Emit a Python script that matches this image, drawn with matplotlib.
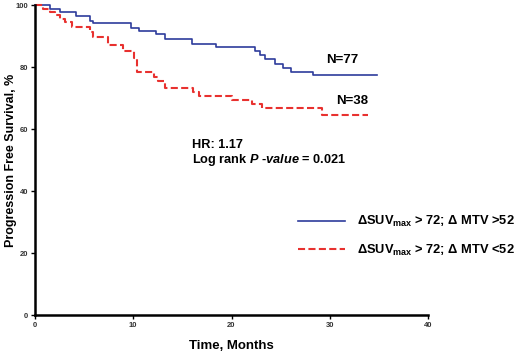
import matplotlib
matplotlib.use("Agg")
import matplotlib.pyplot as plt
from matplotlib.lines import Line2D

plt.rcParams["font.family"] = ["Liberation Sans", "DejaVu Sans"]
plt.rcParams["font.weight"] = "bold"
plt.rcParams["mathtext.fontset"] = "custom"
plt.rcParams["mathtext.rm"] = "Liberation Sans:bold"
plt.rcParams["mathtext.bf"] = "Liberation Sans:bold"
plt.rcParams["mathtext.it"] = "Liberation Sans:bold:italic"
plt.rcParams["mathtext.default"] = "bf"

# Kaplan-Meier steps (months, % progression free)
blue_time = [0, 1.5, 2.5, 4.2, 5.6, 5.9, 9.8, 10.6, 12.3, 13.2, 16.0, 18.4,
             22.4, 22.9, 23.4, 24.4, 25.2, 26.1, 28.3, 34.8]
blue_surv = [100, 98.7, 97.6, 96.5, 95.0, 94.1, 92.7, 91.6, 90.5, 89.0, 87.5, 86.3,
             85.2, 83.9, 82.6, 81.0, 79.7, 78.5, 77.4, 77.4]

red_time = [0, 0.8, 1.5, 2.0, 2.5, 3.1, 3.8, 5.6, 5.9, 7.4, 9.0, 10.1, 10.4,
            12.1, 12.5, 13.2, 16.1, 16.7, 20.1, 22.1, 23.1, 29.2, 33.9]
red_surv = [100, 98.7, 97.8, 96.8, 95.5, 94.4, 93.0, 91.4, 89.8, 87.2, 85.2, 82.8, 78.5,
            76.7, 75.6, 73.3, 72.0, 70.7, 69.4, 68.0, 66.7, 64.5, 64.5]

labels = [r"ΔSUV$_{max}$ > 72; Δ MTV >52", r"ΔSUV$_{max}$ > 72; Δ MTV <52"]
n_labels = ["N=77", "N=38"]

blue = "#2e3c9c"
red = "#e8312f"

fig = plt.figure(figsize=(5.2, 3.52), dpi=100)
ax = fig.add_axes([35 / 520, 37 / 352, 393 / 520, 310 / 352])

ax.step(blue_time, blue_surv, where="post", color=blue, lw=1.2, clip_on=False)
ax.step(red_time, red_surv, where="post", color=red, lw=1.5, clip_on=False,
        dashes=(3.4, 1.6))

ax.set_xlim(0, 40)
ax.set_ylim(0, 100)
ax.set_xticks([0, 10, 20, 30, 40])
ax.set_yticks([0, 20, 40, 60, 80, 100])
ax.tick_params(labelsize=5.5, length=3, width=1, colors="black", labelcolor="#333333",
               pad=2)
for s in ["top", "right"]:
    ax.spines[s].set_visible(False)
for s in ["left", "bottom"]:
    ax.spines[s].set_linewidth(1.8)

ax.set_xlabel("Time, Months", fontsize=9.5, fontweight="bold", labelpad=8)
ax.set_ylabel("Progression Free Survival, %", fontsize=9, fontweight="bold")
ax.yaxis.set_label_coords(-0.045, 0.5)

ax.text(31.3, 82.3, n_labels[0], fontsize=9.5, ha="center", va="center")
ax.text(32.3, 69.0, n_labels[1], fontsize=9.5, ha="center", va="center")
ax.text(16.0, 54.8, "HR: 1.17", fontsize=9.2, ha="left", va="center")
ax.text(16.0, 50.0, r"Log rank $\mathit{P}$ $\mathit{‐value}$ = 0.021", fontsize=9.2,
        ha="left", va="center")

handles = [Line2D([], [], color=blue, lw=1.2),
           Line2D([], [], color=red, lw=1.5, dashes=(3.4, 1.6))]
fig.legend(handles, labels, loc="center left", bbox_to_anchor=(298 / 520, 116 / 352),
           frameon=False, fontsize=9.3, handlelength=3.6, handletextpad=1.0,
           labelspacing=1.05, borderpad=0, borderaxespad=0)

fig.savefig("out.png", dpi=100)
